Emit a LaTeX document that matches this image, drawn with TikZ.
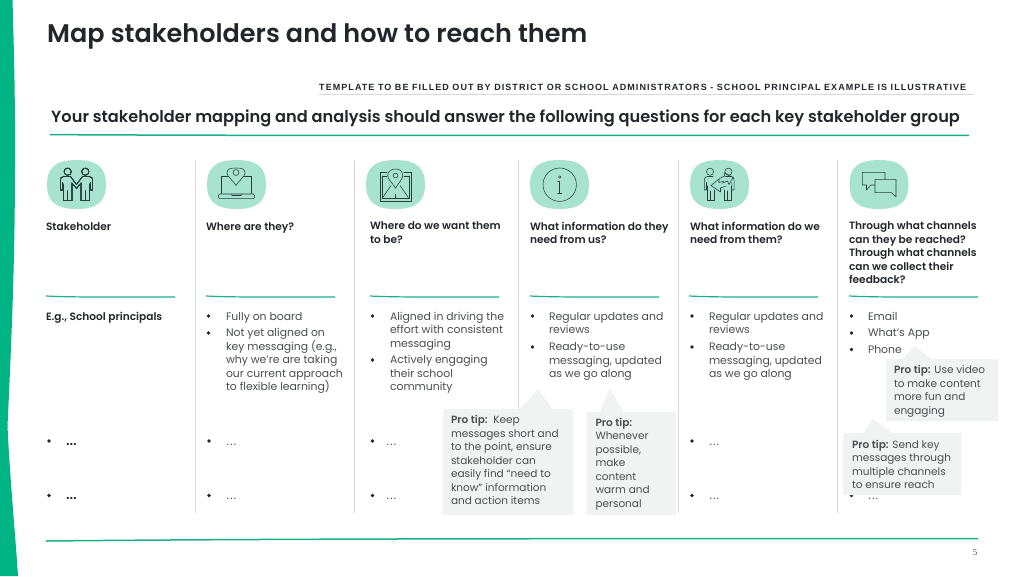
\documentclass[tikz,border=0pt]{standalone}
\usepackage{fontspec}
\setmainfont{Poppins}[BoldFont={Poppins SemiBold}]
\newfontfamily\hdrfont[LetterSpace=11.8]{Liberation Sans}
\newfontfamily\numfont{Liberation Serif}
\newfontfamily\dotfont{DejaVu Sans}
\definecolor{band}{HTML}{00B483}
\definecolor{blobc}{HTML}{A8E3D0}
\definecolor{ink}{HTML}{22262B}
\definecolor{body}{HTML}{4A4D50}
\definecolor{tipbg}{HTML}{F1F2F2}
\definecolor{sep}{HTML}{D9D9D9}
\definecolor{iconc}{HTML}{24403A}
\definecolor{rulec}{HTML}{19B18A}
\tikzset{
  x=1pt,y=-1pt,
  txt/.style={anchor=north west,inner sep=0pt,outer sep=0pt,align=left,text=body,font=\fontsize{10.85}{13.5}\selectfont,execute at begin node={\rule{0pt}{10pt}}},
  head/.style={txt,text=ink,font=\fontsize{10.6}{13.5}\selectfont\bfseries},
  tiptxt/.style={txt,text=body,font=\fontsize{10.5}{13.5}\selectfont},
  bul/.style={circle,fill=ink,inner sep=0pt,minimum size=3.6pt},
  tip/.style={fill=tipbg,draw=none},
  sepl/.style={draw=sep,line width=0.8pt},
  greenl/.style={draw=rulec,line width=1.5pt},
  ico/.style={draw=iconc,line width=0.55pt,line join=round,line cap=round},
}
\newcommand{\blobat}[1]{\fill[blobc,shift={(#1,184.5)}] (-29.5,0) .. controls (-29.5,-15) and (-23,-24.5) .. (0,-24.5) .. controls (23,-24.5) and (29.5,-15) .. (29.5,0) .. controls (29.5,15) and (23,24.5) .. (0,24.5) .. controls (-23,24.5) and (-29.5,15) .. (-29.5,0) -- cycle;}
\newcommand{\handperson}{%
  \draw[ico] (67.7,171.7) circle (3.6);
  \draw[ico] (70.5,176.5) -- (64,176.5) .. controls (61.5,176.5) and (60.3,178) .. (60.3,180) -- (60.3,190) -- (62.7,190) -- (62.7,182.5);
  \draw[ico] (63.7,184) -- (63.7,200.7) -- (72,200.7) -- (72,183) -- (76.5,188.5);
  \draw[ico] (67.7,200.7) -- (67.7,191);
  \draw[ico] (70.5,176.5) -- (76.5,184.5);
}
\newcommand{\swapperson}{%
  \draw[ico] (710,171.7) circle (3.6);
  \draw[ico] (713,176.5) -- (707.5,176.5) .. controls (705.3,176.5) and (704.3,178) .. (704.3,180) -- (704.3,190) -- (706.5,190) -- (706.5,182.5);
  \draw[ico] (707.3,186) -- (707.3,200) -- (714,200) -- (714,190);
  \draw[ico] (710.7,200) -- (710.7,191);
}
\begin{document}
\begin{tikzpicture}
\useasboundingbox (0,0) rectangle (1024,576);
\fill[white] (0,0) rectangle (1024,576);
% left band
\fill[band] (0,0) -- (12.5,0) .. controls (14,50) and (15.5,110) .. (15,170) .. controls (14.8,260) and (12,330) .. (7.5,426) .. controls (10,480) and (15,530) .. (18,576) -- (0,576) -- cycle;
% title
\node[anchor=base west,inner sep=0,text=ink,font=\fontsize{25.5}{30}\selectfont\bfseries] (title) at (47,42) {Map stakeholders and how to reach them};
\node[anchor=base west,inner sep=0,text=ink,font=\fontsize{9}{11}\selectfont\hdrfont\bfseries] (tmpl) at (319,90) {TEMPLATE TO BE FILLED OUT BY DISTRICT OR SCHOOL ADMINISTRATORS - SCHOOL PRINCIPAL EXAMPLE IS ILLUSTRATIVE};
\draw[sep,line width=0.7pt] (319,94) -- (974,94);
\node[anchor=base west,inner sep=0,text=ink,font=\fontsize{16.18}{20}\selectfont\bfseries] (q) at (51,122) {Your stakeholder mapping and analysis should answer the following questions for each key stakeholder group};
\draw[greenl] (50,134.6) .. controls (300,136) and (600,135.2) .. (969,135.4);
% separators
\foreach \x in {195,354.5,518.5,678.5,837.5} \draw[sepl] (\x,160) -- (\x,513);
% blobs
\foreach \x in {76.5,236.5,395.5,559.5,719.5,879} \blobat{\x}
% icon 1: two people shaking hands
\handperson
\begin{scope}[shift={(153,0)},xscale=-1]\handperson\end{scope}
% icon 2: laptop with pin
\draw[ico] (228,176) -- (221,176) -- (221,193) (244,176) -- (251.5,176) -- (251.5,193);
\draw[ico] (236,185.5) .. controls (233,180) and (227,177) .. (227,173) .. controls (227,168.5) and (231,168) .. (236,168) .. controls (241,168) and (245,168.5) .. (245,173) .. controls (245,177) and (239,180) .. (236,185.5) -- cycle;
\draw[ico] (236,172.5) circle (3);
\draw[ico,rounded corners=1.5pt] (218.3,194) -- (254.7,194) -- (254.7,198.7) -- (218.3,198.7) -- cycle;
\draw[ico] (231,194) -- (232,195.5) -- (241,195.5) -- (242,194);
% icon 3: map with pin
\draw[ico] (387,172.3) -- (380,172.3) -- (380,201.7) -- (411,201.7) -- (411,172.3) -- (404,172.3);
\draw[ico] (382.2,176) -- (382.2,198.3) -- (408.8,198.3) -- (408.8,176) (382.2,176) -- (387,176) (404,176) -- (408.8,176);
\draw[ico] (382.7,197.5) -- (391,185.5) (408.3,197.5) -- (400,185.5) (395.5,194.5) -- (395.5,198.3);
\draw[ico] (395.5,188.3) .. controls (393,183) and (387.7,180) .. (387.7,175.5) .. controls (387.7,171) and (391.5,169) .. (395.5,169) .. controls (399.5,169) and (402.7,171) .. (402.7,175.5) .. controls (402.7,180) and (398,183) .. (395.5,188.3) -- cycle;
\draw[ico] (395.5,175.5) circle (2.4);
% icon 4: info
\draw[ico] (559.7,184.7) circle (16.7);
\draw[ico] (559.7,177) circle (1.2);
\draw[ico] (557.7,181.5) -- (559.7,181.5) -- (559.7,193.5) (557.7,193.5) -- (561.7,193.5);
% icon 5: two people exchanging arrows
\swapperson
\begin{scope}[shift={(1438.4,0)},xscale=-1]\swapperson\end{scope}
\draw[ico] (724,181) -- (719,182.5) -- (719,179) -- (711,185.5) -- (720.5,192) -- (720.5,188) -- (726,186) ;
\draw[ico] (719.5,178.5) -- (724.5,176) -- (724,172.5) -- (733,177.5) -- (729,184.5) -- (727.5,181) -- (722,183.2);
% icon 6: speech bubbles
\draw[ico] (875,185) -- (871,185) -- (866.5,190) -- (866.5,185) -- (862.3,185) -- (862.3,172.3) -- (885,172.3) -- (885,179.3);
\draw[ico] (875,179.3) -- (896,179.3) -- (896,196.7) -- (891.5,192.7) -- (875,192.7) -- cycle;
% column heads
\node[head] (h1) at (46,220) {Stakeholder};
\node[head] (h2) at (206,220) {Where are they?};
\node[head] (h3) at (370,222) {Where do we want them\\to be?};
\node[head] (h4) at (530,222) {What information do they\\need from us?};
\node[head] (h5) at (690,222) {What information do we\\need from them?};
\node[head] (h6) at (849,222) {Through what channels\\can they be reached?\\Through what channels\\can we collect their\\feedback?};
% short rules
\foreach \x in {46,206,370,530,689,849} \draw[greenl,line width=1.2pt,shift={(\x,0)}] (0,296) .. controls (30,297.5) and (80,297) .. (129,297);
% row 1
\node[head] (r1) at (46,310) {E.g., School principals};
\node[bul] (b21) at (208.5,316) {}; \node[txt] (t21) at (226,310) {Fully on board};
\node[bul] (b22) at (208.5,333) {}; \node[txt] (t22) at (226,328.5) {Not yet aligned on\\key messaging (e.g.,\\why we’re are taking\\our current approach\\to flexible learning)};
\node[bul] (b31) at (372.5,316) {}; \node[txt] (t31) at (390,312) {Aligned in driving the\\effort with consistent\\messaging};
\node[bul] (b32) at (372.5,360) {}; \node[txt] (t32) at (390,355.5) {Actively engaging\\their school\\community};
\node[bul] (b41) at (532.5,316) {}; \node[txt] (t41) at (549,312) {Regular updates and\\reviews};
\node[bul] (b42) at (532.5,347) {}; \node[txt] (t42) at (549,342.5) {Ready-to-use\\messaging, updated\\as we go along};
\node[bul] (b51) at (692,316) {}; \node[txt] (t51) at (709,312) {Regular updates and\\reviews};
\node[bul] (b52) at (692,347) {}; \node[txt] (t52) at (709,342.5) {Ready-to-use\\messaging, updated\\as we go along};
\node[bul] (b61) at (851.5,316) {}; \node[txt] (t61) at (868,310) {Email};
\node[bul] (b62) at (851.5,333) {}; \node[txt] (t62) at (868,326.5) {What’s App};
\node[bul] (b63) at (851.5,349.5) {}; \node[txt] (t63) at (868,343.5) {Phone};
% rows 2 and 3
\foreach \n/\x/\tx/\c/\w in {a/49/66/ink/\bfseries,b/209/226/body/,c/372.5/386/body/,d/692/709/body/}{
  \node[bul] (m\n) at (\x,441) {};
  \node[txt,execute at begin node={},text=\c,anchor=base west,font=\fontsize{10.6}{13}\selectfont\dotfont\w] (p\n) at (\tx,445.5) {…};
}
\foreach \n/\x/\tx/\c/\w in {a/49/66/ink/\bfseries,b/209/226/body/,c/372.5/386/body/,d/692/709/body/,e/851.5/868/body/}{
  \node[bul] (n\n) at (\x,495.5) {};
  \node[txt,execute at begin node={},text=\c,anchor=base west,font=\fontsize{10.6}{13}\selectfont\dotfont\w] (q\n) at (\tx,499.5) {…};
}
% callouts
\fill[tip] (443,409) -- (520,409) -- (538,389) -- (552,409) -- (573,409) -- (573,515) -- (443,515) -- cycle;
\fill[tip] (587,412) -- (600,412) -- (610,388) -- (623,412) -- (676,412) -- (676,515) -- (587,515) -- cycle;
\fill[tip] (886,359) -- (903,359) -- (914,346) -- (932,359) -- (998,359) -- (998,421) -- (886,421) -- cycle;
\fill[tip] (843,433) -- (863,433) -- (873,419) -- (892,433) -- (961,433) -- (961,495) -- (843,495) -- cycle;
\node[tiptxt] (c1) at (451,415.3) {\textbf{Pro tip:}\ \ Keep\\messages short and\\to the point, ensure\\stakeholder can\\easily find “need to\\know” information\\and action items};
\node[tiptxt] (c2) at (595.5,417.8) {\textbf{Pro tip:}\\Whenever\\possible,\\make\\content\\warm and\\personal};
\node[tiptxt] (c3) at (894,365.3) {\textbf{Pro tip:} Use video\\to make content\\more fun and\\engaging};
\node[tiptxt] (c4) at (852,439.8) {\textbf{Pro tip:} Send key\\messages through\\multiple channels\\to ensure reach};
% bottom
\draw[greenl] (46,541) .. controls (300,538.5) and (600,538.5) .. (978,538.7);
\node[anchor=base,inner sep=0,text=body,font=\fontsize{9}{11}\selectfont\numfont] (pg) at (975,555) {5};
\end{tikzpicture}
\end{document}
